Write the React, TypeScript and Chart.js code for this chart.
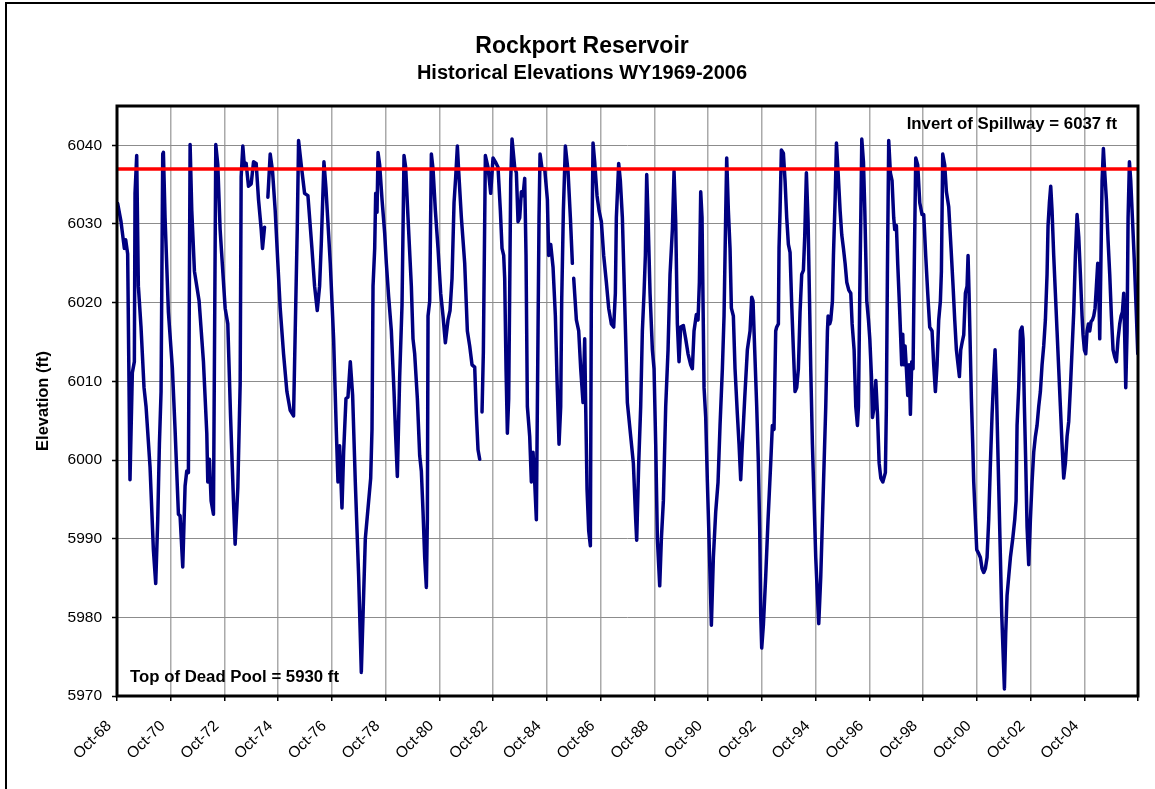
import React, { useEffect, useRef } from 'react';
import { Chart, registerables } from 'chart.js';

Chart.register(...registerables);

// ---- Data (decimal water-year date, reservoir elevation in ft; null = data gap) ----
const record1968to1978: [number, number | null][] = [
  [1968.775, 6032.6], [1968.899, 6030.3], [1969.023, 6026.9], [1969.073, 6028.0], [1969.147, 6026.2],
  [1969.234, 5997.5], [1969.321, 6011.1], [1969.396, 6012.5], [1969.421, 6033.9], [1969.483, 6038.7],
  [1969.545, 6022.1], [1969.644, 6016.9], [1969.756, 6009.2], [1969.831, 6006.8], [1969.980, 5999.1],
  [1970.104, 5988.6], [1970.191, 5984.3], [1970.266, 5992.4], [1970.328, 6002.0], [1970.390, 6008.7],
  [1970.452, 6038.9], [1970.477, 6039.1], [1970.539, 6030.8], [1970.663, 6018.8], [1970.812, 6011.6],
  [1970.911, 6003.9], [1971.036, 5993.1], [1971.098, 5992.9], [1971.197, 5986.4], [1971.284, 5996.7],
  [1971.346, 5998.6], [1971.408, 5998.4], [1971.471, 6040.1], [1971.533, 6031.7], [1971.632, 6024.0],
  [1971.806, 6020.2], [1971.967, 6012.5], [1972.092, 6003.4], [1972.129, 5997.2], [1972.191, 6000.1],
  [1972.253, 5994.8], [1972.340, 5993.1], [1972.427, 6040.1], [1972.502, 6037.5], [1972.588, 6029.3],
  [1972.775, 6019.3], [1972.874, 6017.3], [1972.974, 6005.8], [1973.085, 5994.8], [1973.147, 5989.3],
  [1973.247, 5996.5], [1973.334, 6009.7], [1973.371, 6036.0], [1973.433, 6039.9], [1973.495, 6037.2],
  [1973.557, 6037.7], [1973.644, 6034.8], [1973.744, 6035.1], [1973.831, 6037.9], [1973.930, 6037.7],
  [1974.017, 6033.1], [1974.117, 6029.3], [1974.166, 6026.9], [1974.241, 6029.6], [1974.300, null],
  [1974.365, 6033.4], [1974.452, 6038.9], [1974.539, 6036.7], [1974.638, 6031.7], [1974.737, 6025.0],
  [1974.824, 6019.3], [1974.949, 6013.5], [1975.073, 6008.7], [1975.197, 6006.3], [1975.321, 6005.6],
  [1975.383, 6016.4], [1975.458, 6029.3], [1975.508, 6040.6], [1975.607, 6037.5], [1975.731, 6033.9],
  [1975.856, 6033.6], [1976.005, 6026.9], [1976.104, 6022.1], [1976.203, 6019.0], [1976.290, 6022.1],
  [1976.352, 6027.4], [1976.452, 6037.9], [1976.526, 6034.6], [1976.688, 6025.0], [1976.812, 6015.4],
  [1976.911, 6003.9], [1976.974, 5997.2], [1977.036, 6001.8], [1977.123, 5993.9], [1977.185, 6001.0],
  [1977.272, 6007.8], [1977.346, 6008.0], [1977.433, 6012.5], [1977.520, 6008.2], [1977.619, 5997.2],
  [1977.744, 5985.2], [1977.843, 5973.0], [1977.992, 5990.0],
];

const record1978to1988: [number, number | null][] = [
  [1978.192, 5997.7], [1978.241, 6003.9], [1978.279, 6022.1], [1978.341, 6026.9], [1978.378, 6033.9],
  [1978.428, 6031.5], [1978.465, 6039.1], [1978.527, 6037.5], [1978.614, 6033.1], [1978.713, 6028.8],
  [1978.775, 6025.0], [1978.862, 6020.7], [1978.961, 6016.4], [1979.060, 6008.7], [1979.122, 6003.0],
  [1979.184, 5997.9], [1979.271, 6010.6], [1979.358, 6019.7], [1979.432, 6038.7], [1979.494, 6037.2],
  [1979.581, 6030.8], [1979.705, 6022.1], [1979.767, 6015.4], [1979.829, 6013.5], [1979.929, 6007.8],
  [1980.015, 6000.6], [1980.077, 5998.6], [1980.140, 5993.4], [1980.202, 5987.6], [1980.264, 5983.8],
  [1980.301, 5992.4], [1980.326, 6018.3], [1980.388, 6020.2], [1980.450, 6038.9], [1980.512, 6037.0],
  [1980.599, 6031.7], [1980.698, 6026.9], [1980.797, 6021.2], [1980.884, 6018.3], [1980.971, 6014.9],
  [1981.070, 6017.8], [1981.145, 6019.0], [1981.219, 6023.1], [1981.294, 6032.7], [1981.356, 6036.0],
  [1981.418, 6039.9], [1981.467, 6036.7], [1981.567, 6030.8], [1981.691, 6025.0], [1981.790, 6016.4],
  [1981.877, 6014.5], [1981.963, 6012.1], [1982.063, 6011.8], [1982.125, 6005.8], [1982.187, 6001.3],
  [1982.249, 6000.1], [1982.290, null], [1982.336, 6006.1], [1982.385, 6013.7], [1982.460, 6038.7],
  [1982.559, 6037.2], [1982.658, 6033.9], [1982.745, 6038.4], [1982.832, 6037.9], [1982.931, 6037.2],
  [1983.018, 6031.7], [1983.080, 6026.9], [1983.142, 6026.0], [1983.179, 6023.1], [1983.229, 6011.6],
  [1983.279, 6003.4], [1983.328, 6007.8], [1983.365, 6021.2], [1983.403, 6035.5], [1983.452, 6040.8],
  [1983.552, 6037.2], [1983.614, 6036.5], [1983.676, 6030.3], [1983.738, 6030.8], [1983.800, 6034.1],
  [1983.862, 6033.6], [1983.924, 6035.8], [1983.973, 6026.0], [1984.023, 6006.8], [1984.110, 6003.0],
  [1984.172, 5997.2], [1984.234, 6001.0], [1984.296, 5997.2], [1984.358, 5992.4], [1984.420, 6016.4],
  [1984.457, 6030.8], [1984.495, 6038.9], [1984.569, 6037.0], [1984.668, 6037.0], [1984.768, 6033.1],
  [1984.817, 6026.0], [1984.892, 6027.4], [1984.979, 6024.5], [1985.065, 6018.3], [1985.140, 6008.7],
  [1985.202, 6002.0], [1985.264, 6006.8], [1985.301, 6020.2], [1985.363, 6031.7], [1985.438, 6039.9],
  [1985.537, 6036.7], [1985.624, 6030.8], [1985.698, 6025.0], [1985.720, null], [1985.748, 6023.1],
  [1985.847, 6017.8], [1985.934, 6016.4], [1986.008, 6011.6], [1986.095, 6007.3], [1986.157, 6015.4],
  [1986.194, 6006.8], [1986.244, 5996.3], [1986.306, 5991.0], [1986.368, 5989.1], [1986.405, 6021.2],
  [1986.467, 6040.3], [1986.529, 6037.9], [1986.616, 6033.6], [1986.690, 6031.7], [1986.777, 6030.3],
  [1986.864, 6026.0], [1986.963, 6022.6], [1987.050, 6019.3], [1987.149, 6017.3], [1987.236, 6016.9],
  [1987.298, 6021.2], [1987.335, 6030.8], [1987.422, 6037.7], [1987.484, 6035.5], [1987.559, 6030.8],
  [1987.683, 6015.4], [1987.745, 6007.3], [1987.869, 6003.0], [1987.968, 5999.6],
];

const record1988to1997: [number, number | null][] = [
  [1988.055, 5992.4], [1988.092, 5989.8], [1988.167, 5999.6], [1988.241, 6006.8], [1988.303, 6016.4],
  [1988.365, 6021.2], [1988.415, 6026.0], [1988.465, 6036.3], [1988.515, 6030.8], [1988.589, 6021.2],
  [1988.676, 6014.0], [1988.738, 6011.6], [1988.800, 6002.0], [1988.862, 5990.0], [1988.949, 5984.0],
  [1989.011, 5990.0], [1989.085, 5994.8], [1989.172, 6006.8], [1989.259, 6014.0], [1989.333, 6023.6],
  [1989.420, 6029.3], [1989.482, 6036.7], [1989.544, 6030.3], [1989.606, 6017.3], [1989.668, 6012.5],
  [1989.730, 6016.9], [1989.829, 6017.1], [1989.916, 6015.4], [1990.003, 6013.5], [1990.102, 6012.1],
  [1990.164, 6011.6], [1990.226, 6016.4], [1990.313, 6018.5], [1990.375, 6017.8], [1990.425, 6022.6],
  [1990.475, 6034.1], [1990.524, 6030.8], [1990.599, 6009.2], [1990.661, 6005.4], [1990.723, 5997.2],
  [1990.785, 5990.0], [1990.872, 5979.0], [1990.946, 5987.6], [1991.033, 5993.4], [1991.120, 5997.2],
  [1991.194, 6004.4], [1991.281, 6011.6], [1991.343, 6018.3], [1991.405, 6031.2], [1991.442, 6038.4],
  [1991.504, 6031.7], [1991.566, 6026.9], [1991.616, 6019.3], [1991.690, 6018.3], [1991.752, 6011.6],
  [1991.839, 6005.8], [1991.901, 6002.0], [1991.963, 5997.5], [1992.025, 6002.0], [1992.112, 6007.8],
  [1992.211, 6014.0], [1992.311, 6016.4], [1992.373, 6020.7], [1992.422, 6020.2], [1992.484, 6014.0],
  [1992.559, 6006.8], [1992.621, 5999.6], [1992.671, 5991.0], [1992.708, 5980.4], [1992.745, 5976.1],
  [1992.807, 5979.0], [1992.894, 5985.2], [1992.981, 5992.4], [1993.080, 5999.6], [1993.142, 6004.4],
  [1993.204, 6003.9], [1993.266, 6016.4], [1993.303, 6016.9], [1993.366, 6017.3], [1993.390, 6026.9],
  [1993.428, 6031.7], [1993.477, 6039.4], [1993.552, 6039.0], [1993.614, 6035.5], [1993.676, 6030.8],
  [1993.738, 6027.4], [1993.800, 6026.4], [1993.862, 6019.7], [1993.924, 6014.0], [1993.986, 6008.7],
  [1994.048, 6009.2], [1994.110, 6011.6], [1994.172, 6018.8], [1994.234, 6023.6], [1994.296, 6024.1],
  [1994.346, 6028.4], [1994.408, 6036.5], [1994.471, 6030.3], [1994.520, 6021.2], [1994.570, 6011.6],
  [1994.632, 6002.0], [1994.694, 5994.8], [1994.756, 5987.6], [1994.818, 5982.8], [1994.868, 5979.2],
  [1994.943, 5985.2], [1995.005, 5992.4], [1995.067, 5999.6], [1995.129, 6006.8], [1995.191, 6016.4],
  [1995.216, 6018.3], [1995.278, 6017.3], [1995.315, 6017.8], [1995.377, 6020.2], [1995.415, 6026.0],
  [1995.477, 6033.1], [1995.527, 6040.3], [1995.589, 6036.5], [1995.663, 6031.7], [1995.725, 6028.6],
  [1995.787, 6026.9], [1995.849, 6025.0], [1995.911, 6022.6], [1995.986, 6021.6], [1996.060, 6021.2],
  [1996.110, 6017.3], [1996.184, 6014.0], [1996.246, 6006.8], [1996.308, 6004.4], [1996.346, 6006.8],
  [1996.395, 6021.2], [1996.433, 6030.8], [1996.470, 6040.8], [1996.532, 6037.9], [1996.582, 6031.7],
  [1996.656, 6020.2], [1996.719, 6017.8], [1996.768, 6015.4], [1996.830, 6010.6], [1996.868, 6005.4],
  [1996.930, 6006.8], [1996.992, 6010.1], [1997.054, 6005.8], [1997.116, 5999.6], [1997.178, 5997.7],
  [1997.253, 5997.2],
];

const record1997to2006: [number, number | null][] = [
  [1997.348, 5998.4], [1997.385, 6006.8], [1997.423, 6023.6], [1997.472, 6040.6], [1997.534, 6036.5],
  [1997.596, 6035.5], [1997.658, 6030.8], [1997.696, 6029.3], [1997.758, 6029.8], [1997.807, 6025.0],
  [1997.882, 6018.8], [1997.956, 6012.1], [1997.994, 6016.0], [1998.031, 6012.1], [1998.080, 6014.5],
  [1998.130, 6011.6], [1998.180, 6008.2], [1998.229, 6012.1], [1998.279, 6005.8], [1998.329, 6012.5],
  [1998.378, 6011.6], [1998.428, 6026.0], [1998.478, 6038.4], [1998.552, 6037.5], [1998.627, 6032.7],
  [1998.713, 6031.2], [1998.775, 6031.2], [1998.849, 6026.0], [1998.924, 6021.2], [1998.998, 6016.9],
  [1999.085, 6016.4], [1999.147, 6012.1], [1999.209, 6008.7], [1999.271, 6012.1], [1999.333, 6017.8],
  [1999.395, 6020.2], [1999.433, 6024.0], [1999.482, 6038.9], [1999.557, 6037.5], [1999.619, 6034.1],
  [1999.705, 6032.2], [1999.792, 6026.9], [1999.867, 6022.1], [1999.929, 6017.8], [1999.991, 6014.0],
  [2000.053, 6012.1], [2000.103, 6010.6], [2000.152, 6014.0], [2000.202, 6014.9], [2000.264, 6015.9],
  [2000.326, 6021.2], [2000.388, 6022.1], [2000.425, 6026.0], [2000.462, 6021.2], [2000.512, 6013.5],
  [2000.549, 6007.8], [2000.599, 6002.0], [2000.636, 5997.2], [2000.698, 5992.4], [2000.748, 5988.6],
  [2000.822, 5988.1], [2000.884, 5987.6], [2000.946, 5986.2], [2001.008, 5985.7], [2001.070, 5986.2],
  [2001.132, 5987.6], [2001.194, 5992.4], [2001.257, 5999.6], [2001.319, 6005.8], [2001.381, 6010.6],
  [2001.430, 6014.0], [2001.480, 6009.2], [2001.529, 6002.0], [2001.579, 5994.8], [2001.629, 5987.6],
  [2001.678, 5980.4], [2001.728, 5975.6], [2001.778, 5970.9], [2001.827, 5978.0], [2001.877, 5982.8],
  [2001.939, 5985.2], [2002.001, 5987.6], [2002.088, 5990.0], [2002.162, 5992.4], [2002.212, 5994.8],
  [2002.249, 6004.4], [2002.311, 6009.2], [2002.373, 6016.4], [2002.435, 6016.9], [2002.472, 6015.4],
  [2002.522, 6006.8], [2002.572, 5999.6], [2002.621, 5991.5], [2002.683, 5986.7], [2002.745, 5992.4],
  [2002.807, 5997.2], [2002.869, 6001.0], [2002.931, 6003.0], [2002.993, 6004.4], [2003.055, 6006.8],
  [2003.117, 6008.7], [2003.179, 6012.1], [2003.241, 6014.5], [2003.303, 6017.8], [2003.365, 6023.6],
  [2003.402, 6029.8], [2003.452, 6032.7], [2003.502, 6034.8], [2003.551, 6031.7], [2003.613, 6026.0],
  [2003.675, 6021.2], [2003.737, 6016.4], [2003.799, 6011.6], [2003.861, 6006.8], [2003.923, 6002.0],
  [2003.985, 5997.7], [2004.048, 5999.6], [2004.110, 6003.0], [2004.172, 6004.9], [2004.234, 6009.2],
  [2004.296, 6014.0], [2004.358, 6018.8], [2004.420, 6026.0], [2004.482, 6031.2], [2004.544, 6028.4],
  [2004.606, 6023.6], [2004.668, 6018.3], [2004.705, 6015.9], [2004.755, 6014.0], [2004.805, 6013.5],
  [2004.854, 6016.4], [2004.904, 6017.3], [2004.954, 6016.4], [2005.003, 6017.6], [2005.053, 6017.8],
  [2005.103, 6018.3], [2005.152, 6019.3], [2005.202, 6022.1], [2005.251, 6025.0], [2005.289, 6022.1],
  [2005.326, 6015.4], [2005.363, 6023.6], [2005.413, 6035.5], [2005.462, 6039.6], [2005.512, 6036.5],
  [2005.574, 6033.1], [2005.636, 6027.9], [2005.698, 6023.6], [2005.760, 6018.3], [2005.822, 6014.0],
  [2005.884, 6013.1], [2005.946, 6012.5], [2006.008, 6015.4], [2006.070, 6017.3], [2006.120, 6018.3],
  [2006.169, 6018.8], [2006.219, 6021.2], [2006.257, 6015.4], [2006.294, 6009.2], [2006.344, 6016.4],
  [2006.381, 6030.8], [2006.431, 6037.9], [2006.480, 6035.5], [2006.542, 6030.8], [2006.617, 6025.0],
  [2006.691, 6018.3], [2006.741, 6013.5],
];

const spillwayElevation = 6037;
const xAxisStart = 1968.75; // Oct 1968
const xAxisEnd = 2006.75; // Oct 2006
const xTickPositions = [
  1968.75, 1970.75, 1972.75, 1974.75, 1976.75, 1978.75, 1980.75, 1982.75, 1984.75, 1986.75,
  1988.75, 1990.75, 1992.75, 1994.75, 1996.75, 1998.75, 2000.75, 2002.75, 2004.75, 2006.75,
];
const xTickLabels = [
  'Oct-68', 'Oct-70', 'Oct-72', 'Oct-74', 'Oct-76', 'Oct-78', 'Oct-80', 'Oct-82', 'Oct-84', 'Oct-86',
  'Oct-88', 'Oct-90', 'Oct-92', 'Oct-94', 'Oct-96', 'Oct-98', 'Oct-00', 'Oct-02', 'Oct-04', '',
];
const yTickValues = [5970, 5980, 5990, 6000, 6010, 6020, 6030, 6040];

const titleText = 'Rockport Reservoir';
const subtitleText = 'Historical Elevations WY1969-2006';
const yAxisTitle = 'Elevation (ft)';
const spillwayLabel = 'Invert of Spillway = 6037 ft';
const deadPoolLabel = 'Top of Dead Pool = 5930 ft';

const FONT = "'Liberation Sans', Arial, Helvetica, sans-serif";

const CANVAS_W = 1150;
const CANVAS_H = 790;

const annotationPlugin = {
  id: 'rockportAnnotations',
  afterDatasetsDraw(chart: any) {
    const { ctx, chartArea } = chart;
    const { left, right, top, bottom } = chartArea;
    ctx.save();
    ctx.fillStyle = '#000';
    ctx.font = `bold 16.8px ${FONT}`;
    ctx.textBaseline = 'alphabetic';
    ctx.textAlign = 'right';
    ctx.fillText(spillwayLabel, right - 21, top + 23);
    ctx.textAlign = 'left';
    ctx.fillText(deadPoolLabel, left + 13, bottom - 14);
    ctx.lineWidth = 3;
    ctx.strokeStyle = '#000';
    ctx.strokeRect(left, top, right - left, bottom - top);
    ctx.restore();
  },
};

export default function App() {
  const canvasRef = useRef<HTMLCanvasElement | null>(null);

  useEffect(() => {
    const canvas = canvasRef.current;
    if (!canvas) return;
    Chart.defaults.font.family = FONT;
    Chart.defaults.color = '#000';

    const allRecords = [...record1968to1978, ...record1978to1988, ...record1988to1997, ...record1997to2006];
    const elevationPoints = allRecords.map(([x, y]) => ({ x, y }));

    const chart = new Chart(canvas, {
      type: 'line',
      data: {
        datasets: [
          {
            label: spillwayLabel,
            data: [
              { x: xAxisStart, y: spillwayElevation },
              { x: xAxisEnd, y: spillwayElevation },
            ],
            borderColor: '#ff0000',
            borderWidth: 3.5,
            pointRadius: 0,
            order: 0,
          },
          {
            label: 'Elevation',
            data: elevationPoints as any,
            borderColor: '#000080',
            borderWidth: 3.5,
            pointRadius: 0,
            tension: 0,
            spanGaps: false,
            borderJoinStyle: 'round',
            borderCapStyle: 'round',
            order: 1,
          },
        ],
      },
      options: {
        responsive: false,
        animation: false,
        devicePixelRatio: 1,
        layout: { padding: 0 },
        plugins: {
          legend: { display: false },
          tooltip: { enabled: false },
          title: {
            display: true,
            text: titleText,
            color: '#000',
            font: { size: 23, weight: 'bold', family: FONT, lineHeight: 1.2 },
            padding: { top: 29, bottom: 0 },
          },
          subtitle: {
            display: true,
            text: subtitleText,
            color: '#000',
            font: { size: 20, weight: 'bold', family: FONT, lineHeight: 1.2 },
            padding: { top: 1, bottom: 20.4 },
          },
        },
        scales: {
          x: {
            type: 'linear',
            min: xAxisStart,
            max: xAxisEnd,
            afterBuildTicks: (scale: any) => {
              scale.ticks = xTickPositions.map((value) => ({ value }));
            },
            afterFit: (scale: any) => {
              scale.height = CANVAS_H - 692;
              scale.paddingLeft = 0;
              scale.paddingRight = 0;
            },
            ticks: {
              autoSkip: false,
              minRotation: 45,
              maxRotation: 45,
              padding: 16,
              labelOffset: -8,
              color: '#000',
              font: { size: 15.5, family: FONT },
              callback: (_v: any, i: number) => xTickLabels[i] ?? '',
            },
            grid: {
              color: '#aaaaaa',
              lineWidth: 1.5,
              tickLength: 5,
              tickColor: '#000',
              tickWidth: 1.5,
            },
            border: { display: false },
          },
          y: {
            type: 'linear',
            min: 5970,
            max: 6045,
            afterBuildTicks: (scale: any) => {
              scale.ticks = yTickValues.map((value) => ({ value }));
            },
            afterFit: (scale: any) => {
              scale.width = 110;
            },
            ticks: {
              padding: 10,
              color: '#000',
              font: { size: 15.5, family: FONT },
              callback: (v: any) => String(v),
            },
            grid: {
              color: '#8c8c8c',
              lineWidth: 1,
              tickLength: 5,
              tickColor: '#000',
              tickWidth: 1.5,
            },
            border: { display: false },
            title: {
              display: true,
              text: yAxisTitle,
              color: '#000',
              font: { size: 16.5, weight: 'bold', family: FONT, lineHeight: 1.2 },
              padding: { top: 27, bottom: 0 },
            },
          },
          yRight: {
            type: 'linear',
            position: 'right',
            display: true,
            grid: { display: false, drawTicks: false },
            border: { display: false },
            ticks: { display: false },
            afterFit: (scale: any) => {
              scale.width = 19;
            },
          },
        },
      } as any,
      plugins: [annotationPlugin],
    });

    return () => chart.destroy();
  }, []);

  return (
    <div
      style={{
        position: 'fixed',
        left: 0,
        top: 0,
        width: 1155,
        height: 789,
        overflow: 'hidden',
        background: '#fff',
      }}
    >
      <div
        style={{
          position: 'absolute',
          left: 5,
          top: 2,
          width: CANVAS_W + 20,
          height: CANVAS_H + 30,
          border: '2px solid #000',
          background: '#fff',
        }}
      >
        <canvas
          ref={canvasRef}
          width={CANVAS_W}
          height={CANVAS_H}
          style={{ position: 'absolute', left: 0, top: 0, width: CANVAS_W, height: CANVAS_H, display: 'block' }}
        />
      </div>
    </div>
  );
}
